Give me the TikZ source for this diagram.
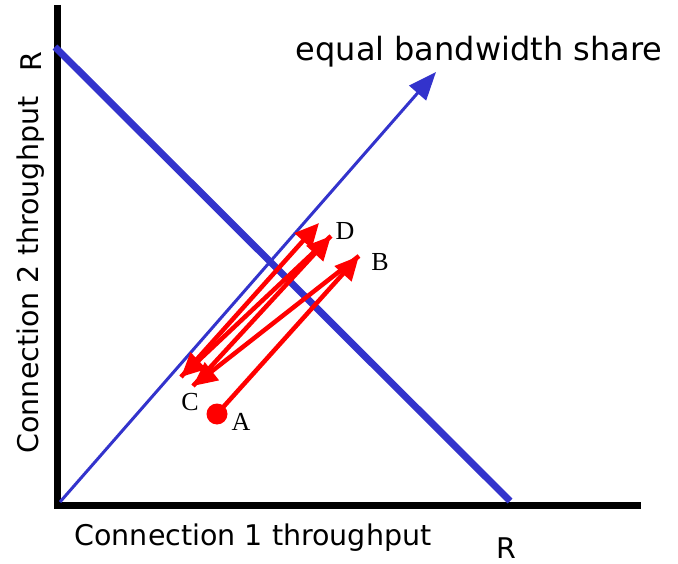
\documentclass[tikz,border=0pt]{standalone}
\usepackage{fontspec}
\setmainfont{DejaVu Sans}
\newfontfamily\pointfont{Liberation Serif}
\usetikzlibrary{arrows.meta}
\definecolor{shareblue}{RGB}{51,51,204}
\definecolor{stepred}{RGB}{255,0,0}

\begin{document}
\begin{tikzpicture}[x=1pt,y=-1pt,
    axisline/.style={line width=7pt, black},
    capline/.style={line width=7pt, shareblue},
    shareline/.style={line width=3pt, shareblue, -{Triangle[length=28pt,width=22pt]}},
    steparrow/.style={line width=4.5pt, stepred, -{Triangle[length=24pt,width=22pt]}},
    axislabel/.style={font=\fontsize{28.5}{32}\selectfont},
    pointlabel/.style={font=\pointfont\fontsize{26}{29}\selectfont}]
        % \draw[help lines, gray!50, very thin] (0,0) grid (678,564);
        \useasboundingbox (0,0) rectangle (678,564);

        % axes
        \coordinate (o) at (57,505);
        \coordinate (ytop) at (57,5);
        \coordinate (xend) at (641,505);
        \draw[axisline] (ytop) -- (57,508);
        \draw[axisline] (54,505) -- (xend);

        % capacity line R--R
        \coordinate (ry) at (55,47);
        \coordinate (rx) at (510,501);
        \draw[capline] (ry) -- (rx);

        % equal share line
        \coordinate (share) at (436,72);
        \draw[shareline] (60,502) -- (share);

        % AIMD steps
        \coordinate (A) at (217,414);
        \coordinate (B) at (359,256);
        \coordinate (C1) at (181,377);
        \coordinate (C2) at (193,386);
        \coordinate (D1) at (319,223);
        \coordinate (D2) at (331,236);
        \draw[steparrow] (A) -- (B);
        \draw[steparrow] (B) -- (C2);
        \draw[steparrow] (C2) -- (D2);
        \draw[steparrow] (D2) -- (C1);
        \draw[steparrow] (C1) -- (D1);
        \fill[stepred] (A) circle (10.5pt);

        \node[pointlabel] (la) at (241,422) {A};
        \node[pointlabel] (lb) at (380,262) {B};
        \node[pointlabel] (lc) at (190,402) {C};
        \node[pointlabel] (ld) at (345,231) {D};

        % labels
        \node[axislabel, rotate=90] (ylab) at (31,275) {Connection 2 throughput};
        \node[axislabel, rotate=90] (ry lab) at (31,62) {R};
        \node[axislabel] (xlab) at (253,538) {Connection 1 throughput};
        \node[axislabel] (rx lab) at (506,548) {R};
        \node[axislabel, font=\fontsize{32}{36}\selectfont] (sharelab) at (479,52) {equal bandwidth share};
\end{tikzpicture}
\end{document}
